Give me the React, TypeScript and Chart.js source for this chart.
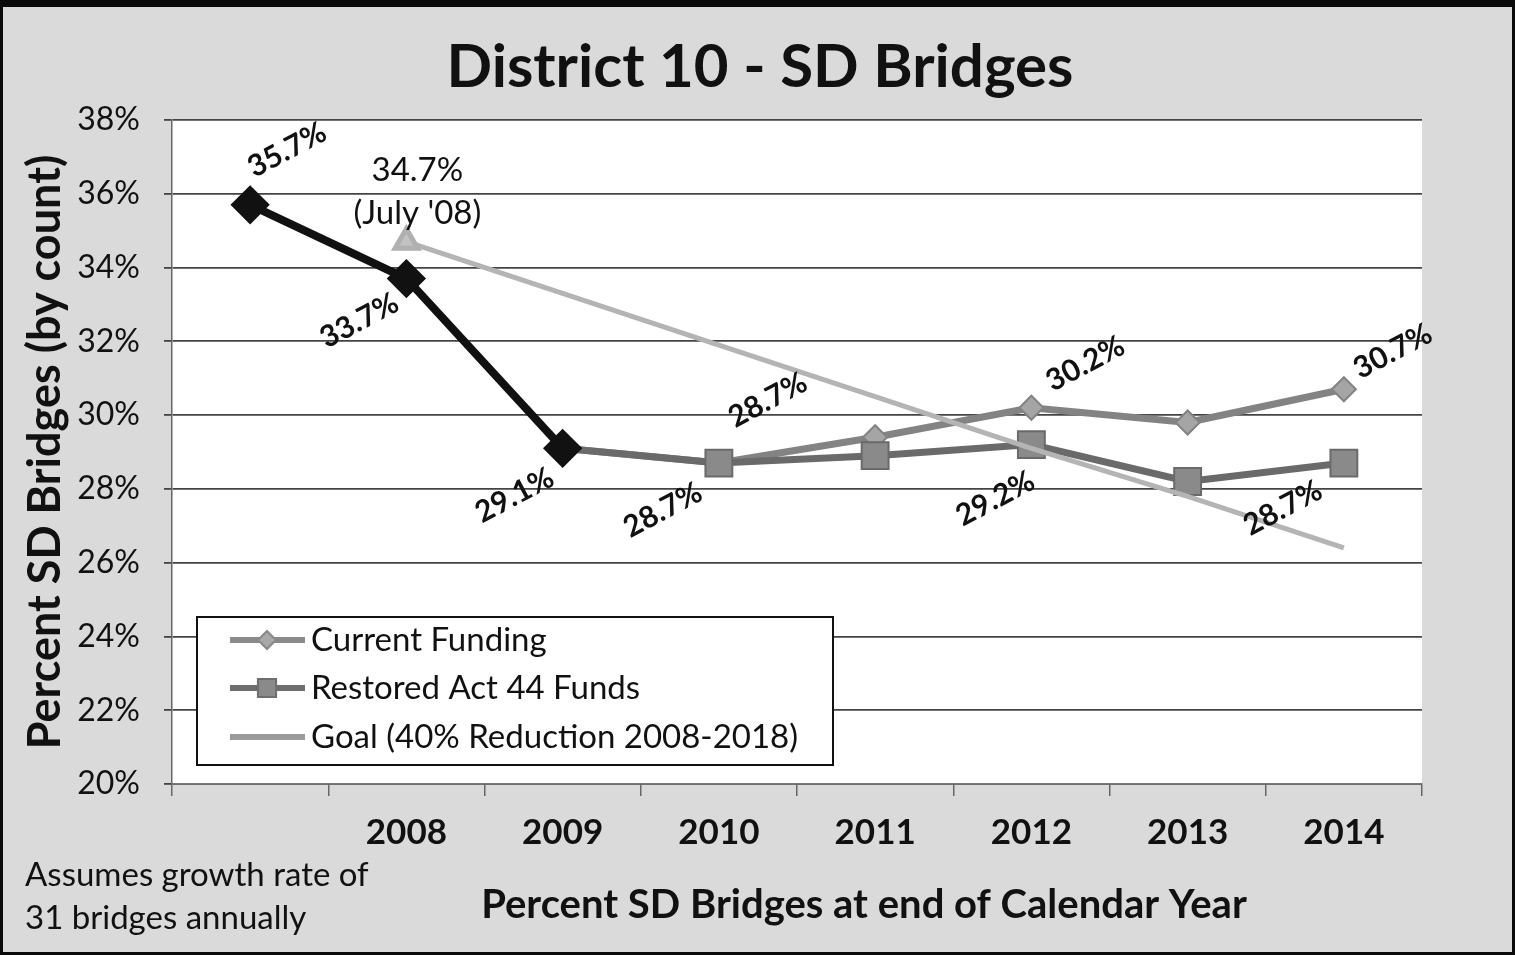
import { useEffect, useRef } from "react";
import { Chart, registerables } from "chart.js";

Chart.register(...registerables);

// ---------------- data ----------------
const categories = ["", "2008", "2009", "2010", "2011", "2012", "2013", "2014"];
const historical = [35.7, 33.7, 29.1, null, null, null, null, null];
const currentFunding = [null, null, 29.1, 28.7, 29.4, 30.2, 29.8, 30.7];
const restoredAct44 = [null, null, 29.1, 28.7, 28.9, 29.2, 28.2, 28.7];
const goal = [null, 34.7, 33.3, 31.9, 30.5, 29.1, 27.8, 26.4];
const seriesNames = ["Current Funding", "Restored Act 44 Funds", "Goal (40% Reduction 2008-2018)"];
const yMin = 20;
const yMax = 38;
const yStep = 2;
const chartTitle = "District 10 - SD Bridges";
const yTitle = "Percent SD Bridges (by count)";
const xTitle = "Percent SD Bridges at end of Calendar Year";
const noteLines = ["Assumes growth rate of", "31 bridges annually"];
const goalStartNote = "(July '08)";

const FONT = "Lato, 'Open Sans', sans-serif";

// dataset indices: 0 historical, 1 goal, 2 restored, 3 current
const labelSpecs = [
  { ds: 0, i: 0, dx: 37, dy: -55 },
  { ds: 0, i: 1, dx: -47, dy: 42 },
  { ds: 0, i: 2, dx: -48, dy: 47 },
  { ds: 2, i: 3, dx: -56, dy: 47 },
  { ds: 3, i: 3, dx: 49, dy: -63 },
  { ds: 3, i: 5, dx: 54, dy: -44 },
  { ds: 2, i: 5, dx: -36, dy: 54 },
  { ds: 3, i: 7, dx: 49, dy: -38 },
  { ds: 2, i: 7, dx: -61, dy: 45 },
];

const pct = (v: number) => `${v.toFixed(1)}%`;

const decorPlugin = {
  id: "decor",
  beforeDraw(chart: any) {
    const { ctx, width, height, chartArea: a } = chart;
    ctx.save();
    ctx.fillStyle = "#dadada";
    ctx.fillRect(0, 0, width, height);
    ctx.fillStyle = "#ffffff";
    ctx.fillRect(a.left, a.top, a.right - a.left, a.bottom - a.top);
    ctx.restore();
  },
  afterDatasetsDraw(chart: any) {
    const { ctx, scales } = chart;
    const xs = scales.x;
    const ys = scales.y;
    const data = chart.data.datasets;
    ctx.save();
    ctx.fillStyle = "#111";
    ctx.textAlign = "center";
    ctx.textBaseline = "middle";
    ctx.font = `bold 30px ${FONT}`;
    for (const s of labelSpecs) {
      const v = data[s.ds].data[s.i] as number;
      const px = xs.getPixelForValue(s.i);
      const py = ys.getPixelForValue(v);
      ctx.save();
      ctx.translate(px + s.dx, py + s.dy);
      ctx.rotate((-28 * Math.PI) / 180);
      ctx.fillText(pct(v), 0, 0);
      ctx.restore();
    }
    // goal start label (not rotated)
    const gv = goal[1] as number;
    const gx = xs.getPixelForValue(1);
    const gy = ys.getPixelForValue(gv);
    ctx.font = `33px ${FONT}`;
    ctx.fillText(pct(gv), gx + 11, gy - 71);
    ctx.fillText(goalStartNote, gx + 11, gy - 28);
    ctx.restore();
  },
  afterDraw(chart: any) {
    const { ctx, width, height } = chart;
    ctx.save();
    // titles and notes
    ctx.fillStyle = "#111";
    ctx.textBaseline = "middle";
    ctx.textAlign = "center";
    ctx.font = `bold 60px ${FONT}`;
    ctx.fillText(chartTitle, 760, 68);
    ctx.font = `bold 40px ${FONT}`;
    ctx.fillText(xTitle, 864, 905);
    ctx.textAlign = "left";
    ctx.font = `33px ${FONT}`;
    ctx.fillText(noteLines[0], 25, 875);
    ctx.fillText(noteLines[1], 25, 918);

    // legend
    const lx = 197, ly = 617, lw = 636, lh = 148;
    ctx.fillStyle = "#ffffff";
    ctx.fillRect(lx, ly, lw, lh);
    ctx.strokeStyle = "#111";
    ctx.lineWidth = 2;
    ctx.strokeRect(lx, ly, lw, lh);
    const rows = [640, 688, 737];
    const styles = [
      { line: "#8a8a8a", fill: "#a8a8a8", border: "#8a8a8a", marker: "rectRot", r: 9 },
      { line: "#6e6e6e", fill: "#8a8a8a", border: "#6e6e6e", marker: "rect", r: 13 },
      { line: "#9a9a9a", fill: "", border: "", marker: "", r: 0 },
    ];
    for (let k = 0; k < 3; k++) {
      const y = rows[k];
      const st = styles[k];
      ctx.strokeStyle = st.line;
      ctx.lineWidth = 6;
      ctx.beginPath();
      ctx.moveTo(230, y);
      ctx.lineTo(305, y);
      ctx.stroke();
      if (st.marker) {
        ctx.fillStyle = st.fill;
        ctx.strokeStyle = st.border;
        ctx.lineWidth = 2;
        ctx.beginPath();
        if (st.marker === "rectRot") {
          ctx.moveTo(267, y - st.r);
          ctx.lineTo(267 + st.r, y);
          ctx.lineTo(267, y + st.r);
          ctx.lineTo(267 - st.r, y);
          ctx.closePath();
        } else {
          ctx.rect(267 - st.r * 0.7, y - st.r * 0.7, st.r * 1.4, st.r * 1.4);
        }
        ctx.fill();
        ctx.stroke();
      }
      ctx.fillStyle = "#111";
      ctx.font = `33px ${FONT}`;
      ctx.textAlign = "left";
      ctx.fillText(seriesNames[k], 311, y);
    }

    // scan borders
    ctx.fillStyle = "#0a0a0a";
    ctx.fillRect(0, 0, width, 7);
    ctx.fillRect(0, 0, 3, height);
    ctx.fillRect(width - 3, 0, 3, height);
    ctx.fillRect(0, height - 3, width, 3);
    ctx.restore();
  },
};

export default function App() {
  const ref = useRef<HTMLCanvasElement | null>(null);
  useEffect(() => {
    document.body.style.margin = "0";
    const canvas = ref.current;
    if (!canvas) return;
    const chart = new Chart(canvas, {
      type: "line",
      data: {
        labels: categories,
        datasets: [
          {
            label: "History",
            data: historical,
            borderColor: "#111",
            backgroundColor: "#111",
            borderWidth: 8,
            pointStyle: "rectRot",
            pointRadius: 14,
            pointBackgroundColor: "#111",
            pointBorderColor: "#111",
            spanGaps: false,
          },
          {
            label: seriesNames[2],
            data: goal,
            borderColor: "#b4b4b4",
            backgroundColor: "#bdbdbd",
            borderWidth: 5,
            pointStyle: "triangle",
            pointRadius: goal.map((_, i) => (i === 1 ? 13 : 0)),
            pointBackgroundColor: "#c2c2c2",
            pointBorderColor: "#b0b0b0",
          },
          {
            label: seriesNames[1],
            data: restoredAct44,
            borderColor: "#6a6a6a",
            backgroundColor: "#8a8a8a",
            borderWidth: 7,
            pointStyle: "rect",
            pointRadius: restoredAct44.map((_, i) => (i >= 3 ? 19 : 0)),
            pointBackgroundColor: "#8a8a8a",
            pointBorderColor: "#6a6a6a",
            pointBorderWidth: 2,
          },
          {
            label: seriesNames[0],
            data: currentFunding,
            borderColor: "#838383",
            backgroundColor: "#a8a8a8",
            borderWidth: 7,
            pointStyle: "rectRot",
            pointRadius: currentFunding.map((_, i) => (i >= 3 ? 12 : 0)),
            pointBackgroundColor: "#a5a5a5",
            pointBorderColor: "#838383",
            pointBorderWidth: 2,
          },
        ],
      },
      options: {
        animation: false,
        responsive: false,
        maintainAspectRatio: false,
        layout: { padding: { top: 120, right: 93, bottom: 0, left: 0 } },
        plugins: {
          legend: { display: false },
          title: { display: false },
          tooltip: { enabled: false },
        },
        scales: {
          x: {
            type: "category",
            offset: true,
            grid: {
              offset: true,
              drawOnChartArea: false,
              drawTicks: true,
              tickLength: 12,
              color: "#666",
              lineWidth: 1.5,
            },
            border: { color: "#777", width: 1.5 },
            ticks: {
              color: "#111",
              font: { family: FONT, size: 35, weight: "bold" },
              padding: 16,
              maxRotation: 0,
              autoSkip: false,
            },
            afterFit: (s: any) => {
              s.height = 171;
            },
          },
          y: {
            min: yMin,
            max: yMax,
            ticks: {
              stepSize: yStep,
              color: "#111",
              font: { family: FONT, size: 32 },
              padding: 24,
              callback: (v: any) => `${v}%`,
            },
            grid: {
              color: "#444",
              lineWidth: 1.8,
              tickLength: 8,
              drawTicks: true,
            },
            border: { color: "#666", width: 1.5 },
            title: {
              display: true,
              text: yTitle,
              color: "#111",
              font: { family: FONT, size: 45, weight: "bold" },
              padding: { top: 18, bottom: 0 },
            },
            afterFit: (s: any) => {
              s.width = 172;
            },
          },
        },
      },
      plugins: [decorPlugin],
    });
    return () => chart.destroy();
  }, []);
  return (
    <div style={{ position: "fixed", left: 0, top: 0, width: 1515, height: 955 }}>
      <canvas ref={ref} width={1515} height={955} style={{ display: "block", width: 1515, height: 955 }} />
    </div>
  );
}
